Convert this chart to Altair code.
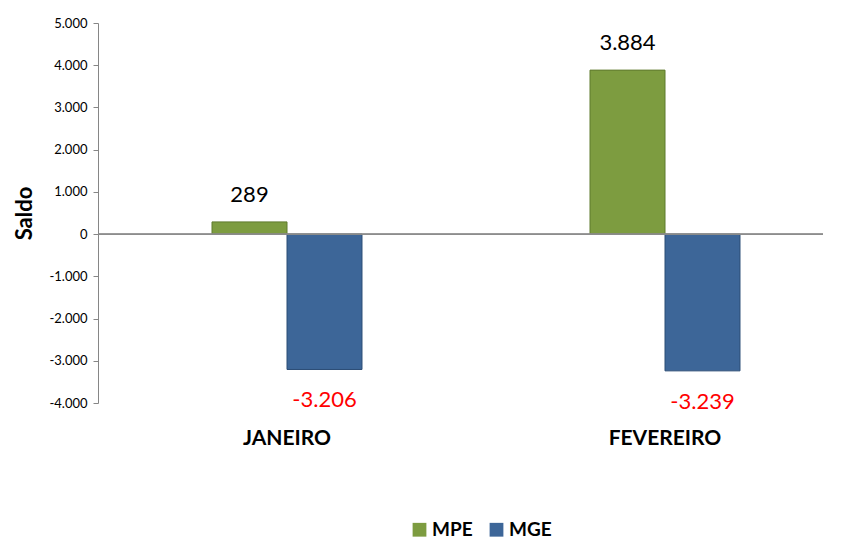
import altair as alt
import pandas as pd

categories = ["JANEIRO", "FEVEREIRO"]
series = ["MPE", "MGE"]
mpe_values = [289, 3884]
mge_values = [-3206, -3239]

rows = []
for i, c in enumerate(categories):
    rows.append({"cat": c, "serie": "MPE", "valor": mpe_values[i]})
    rows.append({"cat": c, "serie": "MGE", "valor": mge_values[i]})
df = pd.DataFrame(rows)

FONT = "Lato"
fmt = "(datum.valor < 0 ? '-' : '') + replace(format(abs(datum.valor), ','), ',', '.')"
axis_fmt = "(datum.value < 0 ? '-' : '') + replace(format(abs(datum.value), ','), ',', '.')"

x_scale = alt.Scale(range=[0, 756], paddingInner=0.6032, paddingOuter=0.3016)
xo_scale = alt.Scale(paddingInner=0, paddingOuter=0)

x_enc = alt.X("cat:N", sort=categories, scale=x_scale,
              axis=alt.Axis(title=None, domain=False, ticks=False, labelAngle=0,
                            labelFont=FONT, labelFontSize=21, labelFontWeight="bold",
                            labelColor="black", labelPadding=24))
xo_enc = alt.XOffset("serie:N", sort=series, scale=xo_scale)
y_enc = alt.Y("valor:Q",
              scale=alt.Scale(domain=[-4000, 5000], nice=False),
              axis=alt.Axis(title="Saldo", values=list(range(-4000, 5001, 1000)),
                            labelExpr=axis_fmt,
                            grid=False, domainColor="#868686", tickColor="#868686",
                            tickSize=5, labelPadding=6, labelFont=FONT, labelFontSize=13,
                            labelColor="black", titleFont=FONT, titleFontSize=22,
                            titleFontWeight="bold", titleColor="black", titlePadding=12))

base = alt.Chart(df)

bars = base.mark_bar(strokeWidth=1).encode(
    x=x_enc, xOffset=xo_enc, y=y_enc,
    color=alt.Color("serie:N", sort=series,
                    scale=alt.Scale(domain=series, range=["#7D9C40", "#3D6698"]),
                    legend=alt.Legend(title=None, orient="none", direction="horizontal",
                                      legendX=312, legendY=497, symbolType="square",
                                      symbolSize=190, symbolStrokeWidth=0,
                                      labelFont=FONT, labelFontSize=19,
                                      labelFontWeight="bold", labelColor="black",
                                      columnPadding=14, labelOffset=3)),
    stroke=alt.Stroke("serie:N", sort=series,
                      scale=alt.Scale(domain=series, range=["#5F7A2D", "#2B4C75"]),
                      legend=None),
)

zero = base.mark_rule(color="#8C8C8C", strokeWidth=1).encode(y=alt.datum(0))

pos_text = base.transform_filter("datum.valor >= 0").transform_calculate(
    lbl=fmt).mark_text(dy=-27, fontSize=22, font=FONT, color="black").encode(
    x=alt.X("cat:N", sort=categories, scale=x_scale),
    xOffset=alt.XOffset("serie:N", sort=series, scale=xo_scale),
    y="valor:Q", text="lbl:N")

neg_text = base.transform_filter("datum.valor < 0").transform_calculate(
    lbl=fmt).mark_text(dy=31, fontSize=22, font=FONT, color="#FF0000").encode(
    x=alt.X("cat:N", sort=categories, scale=x_scale),
    xOffset=alt.XOffset("serie:N", sort=series, scale=xo_scale),
    y="valor:Q", text="lbl:N")

chart = alt.layer(bars, zero, pos_text, neg_text).properties(
    width=725, height=380,
    autosize=alt.AutoSizeParams(type="none"),
    padding={"left": 90, "top": 15, "right": 0, "bottom": 137},
).configure(background="white").configure_view(stroke=None)

chart.save("out.html", embed_options={"renderer": "svg", "actions": False})
